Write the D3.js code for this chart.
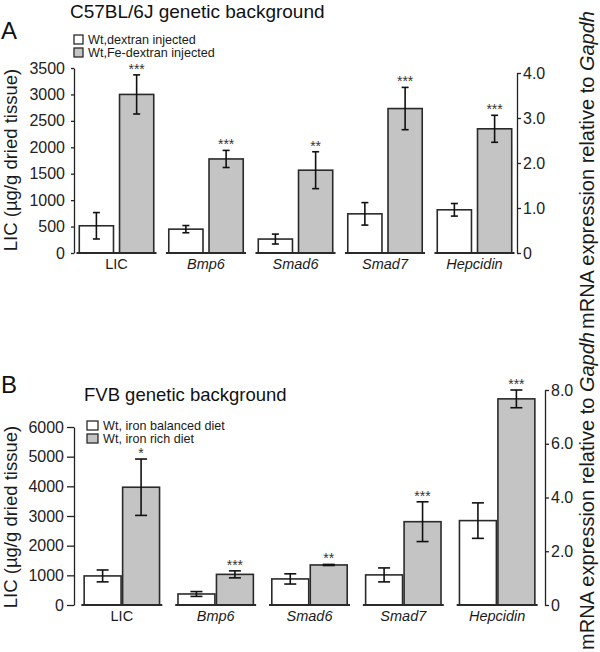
<!DOCTYPE html>
<html>
<head>
<meta charset="utf-8">
<script src="https://cdn.jsdelivr.net/npm/d3@7"></script>
<style>
  body { margin: 0; background: #fff; }
  svg { font-family: "Liberation Sans", Arial, Helvetica, sans-serif; }
  .axis path, .axis line { stroke: #222; stroke-width: 1.3; }
  .axis text { fill: #222; font-size: 16px; font-family: "Liberation Sans", Arial, sans-serif; }
</style>
</head>
<body>
<div id="chart"></div>
<script>
const categories = ["LIC", "Bmp6", "Smad6", "Smad7", "Hepcidin"];

// panel A : C57BL/6J  (LIC on left axis, genes on right axis)
const legendA = ["Wt,dextran injected", "Wt,Fe-dextran injected"];
const ctrlA = [515, 0.53, 0.31, 0.87, 0.96];
const ctrlErrA = [250, 0.08, 0.11, 0.25, 0.14];
const treatA = [3000, 2.09, 1.84, 3.21, 2.76];
const treatErrA = [370, 0.19, 0.41, 0.47, 0.3];
const starsA = ["***", "***", "**", "***", "***"];
const leftTicksA = [0, 500, 1000, 1500, 2000, 2500, 3000, 3500];
const rightTicksA = [0, 1, 2, 3, 4];

// panel B : FVB
const legendB = ["Wt, iron balanced diet", "Wt, iron rich diet"];
const ctrlB = [980, 0.41, 0.97, 1.12, 3.14];
const ctrlErrB = [200, 0.09, 0.19, 0.26, 0.66];
const treatB = [3970, 1.14, 1.49, 3.1, 7.67];
const treatErrB = [950, 0.13, 0.02, 0.74, 0.33];
const starsB = ["*", "***", "**", "***", "***"];
const leftTicksB = [0, 1000, 2000, 3000, 4000, 5000, 6000];
const rightTicksB = [0, 2, 4, 6, 8];

const width = 600, height = 652;
const grey = "#c4c4c4", dark = "#2a2a2a";

const svg = d3.select("#chart").append("svg")
  .attr("width", width)
  .attr("height", height);

function drawPanel(p) {
  const g = svg.append("g");

  const x = d3.scaleBand()
    .domain(categories)
    .range([p.left, p.right])
    .paddingInner(p.padInner)
    .paddingOuter(p.padOuter);
  const xIn = d3.scaleBand()
    .domain([0, 1])
    .range([0, x.bandwidth()])
    .paddingInner(p.barGap)
    .paddingOuter(0.02);

  const yL = d3.scaleLinear().domain(p.leftDomain).range([p.base, p.leftTop]);
  const yR = d3.scaleLinear().domain(p.rightDomain).range([p.base, p.rightTop]);
  // first category (LIC) is read on the left axis, genes on the right one
  const yOf = (i) => (i === 0 ? yL : yR);

  // axes
  g.append("g")
    .attr("class", "axis")
    .attr("transform", `translate(${p.left}, 0)`)
    .call(d3.axisLeft(yL).tickValues(p.leftTicks).tickSize(p.leftTick).tickSizeOuter(0)
      .tickPadding(p.leftPad).tickFormat(d3.format("d")));
  g.append("g")
    .attr("class", "axis")
    .attr("transform", `translate(${p.right}, 0)`)
    .call(d3.axisRight(yR).tickValues(p.rightTicks).tickSize(4).tickSizeOuter(0).tickPadding(2)
      .tickFormat((d) => (d === 0 ? "0" : d3.format(".1f")(d))));

  const rows = categories.map((c, i) => ({
    c, i,
    vals: [p.ctrl[i], p.treat[i]],
    errs: [p.ctrlErr[i], p.treatErr[i]],
    star: p.stars[i],
  }));

  const grp = g.selectAll(".grp")
    .data(rows)
    .enter()
    .append("g")
    .attr("class", "grp")
    .attr("transform", (d) => `translate(${x(d.c)}, 0)`);

  grp.selectAll("rect")
    .data((d) => d.vals.map((v, k) => ({ v, k, i: d.i })))
    .enter()
    .append("rect")
    .attr("x", (d) => xIn(d.k))
    .attr("width", xIn.bandwidth())
    .attr("y", (d) => yOf(d.i)(d.v))
    .attr("height", (d) => p.base - yOf(d.i)(d.v))
    .attr("fill", (d) => (d.k === 0 ? "#fff" : grey))
    .attr("stroke", dark)
    .attr("stroke-width", 1.6);

  // baseline under each group
  grp.append("line")
    .attr("x1", -2)
    .attr("x2", x.bandwidth() + 2)
    .attr("y1", p.base)
    .attr("y2", p.base)
    .attr("stroke", dark)
    .attr("stroke-width", 2);

  // error bars
  const err = grp.selectAll(".err")
    .data((d) => d.vals.map((v, k) => ({ v, e: d.errs[k], k, i: d.i })))
    .enter()
    .append("g")
    .attr("class", "err")
    .attr("stroke", "#111")
    .attr("stroke-width", 1.6);
  const cx = (d) => xIn(d.k) + xIn.bandwidth() / 2;
  err.append("line")
    .attr("x1", cx).attr("x2", cx)
    .attr("y1", (d) => yOf(d.i)(d.v + d.e))
    .attr("y2", (d) => yOf(d.i)(d.v - d.e));
  [1, -1].forEach((s) => {
    err.append("line")
      .attr("x1", (d) => cx(d) - p.cap / 2)
      .attr("x2", (d) => cx(d) + p.cap / 2)
      .attr("y1", (d) => yOf(d.i)(d.v + s * d.e))
      .attr("y2", (d) => yOf(d.i)(d.v + s * d.e));
  });

  // significance stars
  grp.append("text")
    .attr("x", xIn(1) + xIn.bandwidth() / 2)
    .attr("y", (d) => yOf(d.i)(d.vals[1] + d.errs[1]) - 1)
    .attr("text-anchor", "middle")
    .attr("font-size", "14px")
    .attr("fill", "#333")
    .text((d) => d.star);

  // category labels
  grp.append("text")
    .attr("x", x.bandwidth() / 2)
    .attr("y", p.base + 16)
    .attr("text-anchor", "middle")
    .attr("font-size", "14.5px")
    .attr("font-style", (d) => (d.i === 0 ? "normal" : "italic"))
    .attr("fill", "#1a1a1a")
    .text((d) => d.c);

  // axis titles
  g.append("text")
    .attr("transform", `translate(17, ${p.leftMid}) rotate(-90)`)
    .attr("text-anchor", "middle")
    .attr("font-size", "18.5px")
    .attr("fill", "#1a1a1a")
    .text("LIC (µg/g dried tissue)");
  const rt = g.append("text")
    .attr("transform", `translate(594, ${p.rightMid}) rotate(-90)`)
    .attr("text-anchor", "middle")
    .attr("font-size", "20px")
    .attr("fill", "#1a1a1a");
  rt.append("tspan").text("mRNA expression relative to ");
  rt.append("tspan").attr("font-style", "italic").text("Gapdh");

  // panel letter + title
  g.append("text")
    .attr("x", 1)
    .attr("y", p.letterY)
    .attr("font-size", "24px")
    .attr("fill", "#111")
    .text(p.letter);
  g.append("text")
    .attr("x", p.titleX)
    .attr("y", p.titleY)
    .attr("font-size", p.titleSize)
    .attr("fill", "#111")
    .text(p.title);

  // legend
  p.legend.forEach((t, k) => {
    g.append("rect")
      .attr("x", p.legX)
      .attr("y", p.legY + k * p.legStep)
      .attr("width", p.legW)
      .attr("height", 9)
      .attr("fill", k === 0 ? "#fff" : grey)
      .attr("stroke", dark)
      .attr("stroke-width", 1.3);
    g.append("text")
      .attr("x", p.legX + p.legW + 5)
      .attr("y", p.legY + k * p.legStep + 9)
      .attr("font-size", "12.6px")
      .attr("fill", "#1a1a1a")
      .text(t);
  });
}

drawPanel({
  letter: "A", letterY: 39,
  title: "C57BL/6J genetic background", titleX: 70, titleY: 18, titleSize: "19px",
  legend: legendA, legX: 74, legY: 35, legStep: 13, legW: 9,
  left: 74, right: 517, padInner: 0.15, padOuter: 0.05, barGap: 0.15,
  base: 253, leftTop: 68, rightTop: 73,
  leftDomain: [0, 3500], rightDomain: [0, 4],
  leftTicks: leftTicksA, rightTicks: rightTicksA, leftTick: 3, leftPad: 6,
  ctrl: ctrlA, ctrlErr: ctrlErrA, treat: treatA, treatErr: treatErrA, stars: starsA,
  cap: 7, leftMid: 160, rightMid: 170,
});

drawPanel({
  letter: "B", letterY: 393,
  title: "FVB genetic background", titleX: 84, titleY: 401, titleSize: "18.5px",
  legend: legendB, legX: 87, legY: 421, legStep: 13, legW: 11,
  left: 74, right: 545, padInner: 0.18, padOuter: 0.1, barGap: 0.04,
  base: 605, leftTop: 427, rightTop: 390,
  leftDomain: [0, 6000], rightDomain: [0, 8],
  leftTicks: leftTicksB, rightTicks: rightTicksB, leftTick: 7, leftPad: 3,
  ctrl: ctrlB, ctrlErr: ctrlErrB, treat: treatB, treatErr: treatErrB, stars: starsB,
  cap: 12, leftMid: 517, rightMid: 491,
});
</script>
</body>
</html>
